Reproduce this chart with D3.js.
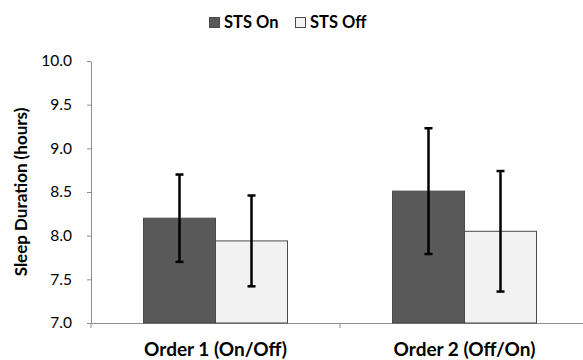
<!DOCTYPE html>
<html><head><meta charset="utf-8">
<script src="https://cdn.jsdelivr.net/npm/d3@7"></script>
<style>body{margin:0;background:#fff}svg{display:block}</style>
</head><body><svg id="c" width="583" height="360"></svg>
<script>
const categories = ["Order 1 (On/Off)", "Order 2 (Off/On)"];
const seriesNames = ["STS On", "STS Off"];
const seriesColors = ["#595959", "#f2f2f2"];
const stsOn = [8.20, 8.51];
const stsOff = [7.94, 8.05];
const errOn = [0.50, 0.72];
const errOff = [0.52, 0.69];
const yTicks = [7.0, 7.5, 8.0, 8.5, 9.0, 9.5, 10.0];

const font = "Lato, 'Open Sans', sans-serif";
const svg = d3.select("#c");
const m = {l: 91, r: 0, t: 61, b: 37};
const plotRight = 589;
const x0 = d3.scaleBand().domain(categories).range([m.l, plotRight]).paddingInner(0).paddingOuter(0);
const y = d3.scaleLinear().domain([7, 10]).range([323, 61]);
const barW = 72;
const x1 = d3.scaleBand().domain(seriesNames).range([-barW, barW]);

const data = categories.map((c, i) => ({c, vals: [
  {s: seriesNames[0], v: stsOn[i], e: errOn[i], col: seriesColors[0]},
  {s: seriesNames[1], v: stsOff[i], e: errOff[i], col: seriesColors[1]}]}));

// y axis
const yAxis = d3.axisLeft(y).tickValues(yTicks).tickFormat(d3.format(".1f")).tickSize(4).tickSizeOuter(0);
const gy = svg.append("g").attr("transform", `translate(${m.l},0)`).call(yAxis);
gy.select(".domain").attr("stroke", "#8c8c8c");
gy.selectAll(".tick line").attr("stroke", "#8c8c8c");
gy.selectAll(".tick text").attr("font-family", font).attr("font-size", 15.5).attr("fill", "#000").attr("x", -19);

// x axis
const xAxis = d3.axisBottom(x0).tickValues([]).tickSizeOuter(0);
const gx = svg.append("g").attr("transform", `translate(0,${y(7)})`).call(xAxis);
gx.select(".domain").attr("stroke", "#8c8c8c");
const xTickPos = [m.l, x0(categories[1])];
gx.selectAll(".xt").data(xTickPos).enter().append("line").attr("class","xt")
  .attr("x1", d => d).attr("x2", d => d).attr("y1", 0).attr("y2", 5).attr("stroke", "#8c8c8c");
gx.selectAll(".xl").data(categories).enter().append("text").attr("class","xl")
  .attr("x", d => x0(d) + x0.bandwidth()/2).attr("y", 33)
  .attr("text-anchor", "middle").attr("font-family", font).attr("font-weight", "bold")
  .attr("font-size", 19).attr("fill", "#000").text(d => d);

// bars
const groups = svg.append("g").selectAll("g").data(data).enter().append("g")
  .attr("transform", d => `translate(${x0(d.c) + x0.bandwidth()/2},0)`);
groups.selectAll("rect").data(d => d.vals).enter().append("rect")
  .attr("x", d => x1(d.s)).attr("width", x1.bandwidth())
  .attr("y", d => y(d.v)).attr("height", d => y(7) - y(d.v))
  .attr("fill", d => d.col).attr("stroke", "#4a4a4a").attr("stroke-width", 1);

// error bars
const eb = groups.selectAll("g.eb").data(d => d.vals).enter().append("g").attr("class", "eb")
  .attr("transform", d => `translate(${x1(d.s) + x1.bandwidth()/2},0)`);
eb.append("line").attr("x1", 0).attr("x2", 0).attr("y1", d => y(d.v + d.e)).attr("y2", d => y(d.v - d.e))
  .attr("stroke", "#000").attr("stroke-width", 2.5);
eb.append("line").attr("x1", -4).attr("x2", 4).attr("y1", d => y(d.v + d.e)).attr("y2", d => y(d.v + d.e))
  .attr("stroke", "#000").attr("stroke-width", 2.5);
eb.append("line").attr("x1", -4).attr("x2", 4).attr("y1", d => y(d.v - d.e)).attr("y2", d => y(d.v - d.e))
  .attr("stroke", "#000").attr("stroke-width", 2.5);

// y title
svg.append("text").attr("transform", `translate(27,${(y(7)+y(10))/2}) rotate(-90)`)
  .attr("text-anchor", "middle").attr("font-family", font).attr("font-weight", "bold")
  .attr("font-size", 17).attr("fill", "#000").text("Sleep Duration (hours)");

// legend
const legX = [209, 295];
const leg = svg.append("g").selectAll("g").data(seriesNames).enter().append("g")
  .attr("transform", (d, i) => `translate(${legX[i]},17)`);
leg.append("rect").attr("width", 10).attr("height", 10).attr("x", 0.5).attr("y", 0.5)
  .attr("fill", (d, i) => seriesColors[i]).attr("stroke", "#4a4a4a");
leg.append("text").attr("x", 15).attr("y", 11).attr("font-family", font).attr("font-weight", "bold")
  .attr("font-size", 16.5).attr("fill", "#000").text(d => d);
</script></body></html>
